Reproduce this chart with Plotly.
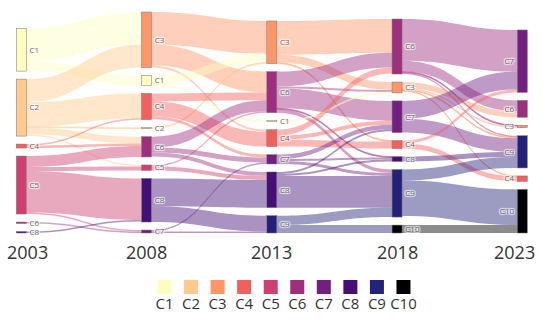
import plotly.graph_objects as go

years = ["2003", "2008", "2013", "2018", "2023"]
classes = ["C1", "C2", "C3", "C4", "C5", "C6", "C7", "C8", "C9", "C10"]
class_colors = ["#fcfdbf", "#feca8d", "#fd9668", "#f1605d", "#cd4071",
                "#9e2f7f", "#721f81", "#440f76", "#242178", "#000004"]

# classes present in each year (top-to-bottom order)
nodes_2003 = ["C1", "C2", "C4", "C5", "C6", "C8"]
nodes_2008 = ["C3", "C1", "C4", "C2", "C6", "C5", "C8", "C7"]
nodes_2013 = ["C3", "C6", "C1", "C4", "C7", "C8", "C9"]
nodes_2018 = ["C6", "C3", "C7", "C4", "C8", "C9", "C10"]
nodes_2023 = ["C7", "C6", "C3", "C9", "C4", "C10"]

# transitions: period start year, from class, to class, value
flow_year = (["2003"] * 15 + ["2008"] * 18 + ["2013"] * 20 + ["2018"] * 16)
flow_from = [
    # 2003 -> 2008
    "C1", "C1", "C2", "C2", "C2", "C2", "C2", "C4", "C4", "C5", "C5", "C5", "C5", "C6", "C8",
    # 2008 -> 2013
    "C3", "C3", "C3", "C1", "C1", "C2", "C4", "C4", "C4", "C6", "C6", "C6", "C5", "C5", "C8", "C8", "C7", "C7",
    # 2013 -> 2018
    "C3", "C3", "C3", "C6", "C6", "C6", "C6", "C6", "C1", "C4", "C4", "C4", "C7", "C7", "C7", "C8", "C8", "C8", "C9", "C9",
    # 2018 -> 2023
    "C6", "C6", "C6", "C6", "C3", "C3", "C3", "C3", "C7", "C7", "C4", "C4", "C8", "C9", "C9", "C10",
]
flow_to = [
    "C3", "C1", "C3", "C4", "C2", "C6", "C5", "C4", "C6", "C6", "C5", "C8", "C7", "C7", "C8",
    "C3", "C6", "C4", "C3", "C1", "C3", "C6", "C4", "C7", "C6", "C7", "C8", "C6", "C8", "C8", "C9", "C7", "C9",
    "C6", "C3", "C4", "C6", "C3", "C7", "C9", "C8", "C3", "C6", "C7", "C4", "C7", "C8", "C9", "C7", "C8", "C9", "C9", "C10",
    "C7", "C6", "C3", "C9", "C6", "C3", "C4", "C9", "C7", "C9", "C7", "C4", "C9", "C9", "C10", "C10",
]
flow_value = [
    33, 10, 23, 25, 1, 7, 1.5, 1.5, 2.5, 11, 4, 42, 1.5, 1.5, 1.5,
    33, 21, 2, 9, 1, 1, 8, 15, 3, 11, 5, 4, 1.5, 4, 28, 16, 1.5, 1.5,
    34, 8, 1, 15, 2, 20, 3.5, 1, 1, 6, 4, 7, 4.5, 2, 3, 2, 2, 32, 9.5, 8,
    42, 11, 1, 1.5, 6, 1.5, 0.5, 1, 18, 14, 3, 5, 5, 11, 36, 8,
]

node_lists = [nodes_2003, nodes_2008, nodes_2013, nodes_2018, nodes_2023]


def rgba(hex_color, a):
    h = hex_color.lstrip("#")
    r, g, b = int(h[0:2], 16), int(h[2:4], 16), int(h[4:6], 16)
    return f"rgba({r},{g},{b},{a})"


keys, labels, ncolors = [], [], []
for yr, lst in zip(years, node_lists):
    for c in lst:
        keys.append(f"{yr}-{c}")
        labels.append(c)
        ncolors.append(class_colors[classes.index(c)])
index = {k: i for i, k in enumerate(keys)}

src, tgt, lcol = [], [], []
for yr, f, t in zip(flow_year, flow_from, flow_to):
    nxt = years[years.index(yr) + 1]
    src.append(index[f"{yr}-{f}"])
    tgt.append(index[f"{nxt}-{t}"])
    lcol.append(rgba(class_colors[classes.index(f)], 0.45))

W, H = 543, 321
x0, x1 = 16.3 / W, 527.3 / W
y_top, y_bot = 12, 233
THICK, PAD = 10, 8

# node values as the sankey computes them (max of inflow / outflow)
inflow = [0.0] * len(keys)
outflow = [0.0] * len(keys)
for s, t, v in zip(src, tgt, flow_value):
    outflow[s] += v
    inflow[t] += v
node_val = [max(a, b) for a, b in zip(inflow, outflow)]

# vertical scale used by the sankey layout (tightest column)
dom_w = (x1 - x0) * W
dom_h = (y_bot - y_top)
col_idx = [[index[f"{yr}-{c}"] for c in lst] for yr, lst in zip(years, node_lists)]
ky = min((dom_h - (len(ci) - 1) * PAD) / sum(node_val[i] for i in ci) for ci in col_idx)

# last column: stack nodes in listed order, resting on the bottom edge
node_x = [None] * len(keys)
node_y = [None] * len(keys)
ybot = dom_h
for i in reversed(col_idx[-1]):
    h = node_val[i] * ky
    node_y[i] = (ybot - h / 2) / dom_h
    node_x[i] = (dom_w - THICK / 2) / dom_w
    ybot -= h + PAD

fig = go.Figure()
fig.add_trace(go.Sankey(
    domain=dict(x=[x0, x1], y=[1 - y_bot / H, 1 - y_top / H]),
    arrangement="fixed",
    node=dict(label=labels, color=ncolors, thickness=THICK, pad=PAD,
              x=node_x, y=node_y,
              line=dict(color="#777", width=0.5)),
    link=dict(source=src, target=tgt, value=flow_value, color=lcol),
    textfont=dict(family="Open Sans", size=8, color="#666"),
))

# legend: colored squares with labels beneath
fig.add_trace(go.Scatter(
    x=list(range(len(classes))), y=[0.53] * len(classes), mode="markers",
    marker=dict(symbol="square", size=14, color=class_colors, line=dict(width=0)),
    xaxis="x", yaxis="y", showlegend=False, hoverinfo="skip"))
fig.add_trace(go.Scatter(
    x=list(range(len(classes))), y=[0.24] * len(classes), mode="text",
    text=classes, textfont=dict(family="Open Sans", size=15, color="#333"),
    xaxis="x", yaxis="y", showlegend=False, hoverinfo="skip"))

# year labels under each column
step = (x1 - x0 - THICK / W) / (len(years) - 1)
for i, yr in enumerate(years):
    cx = x0 + THICK / 2 / W + i * step
    if i == 0:
        xa, xx = "left", 5 / W
    elif i == len(years) - 1:
        xa, xx = "right", 537 / W
    else:
        xa, xx = "center", cx
    fig.add_annotation(text=yr, x=xx, y=1 - 251.5 / H, xref="paper", yref="paper",
                       xanchor=xa, yanchor="middle", showarrow=False,
                       font=dict(family="Open Sans", size=18, color="#333"))

fig.update_layout(
    width=W, height=H, margin=dict(l=0, r=0, t=0, b=0),
    paper_bgcolor="white", plot_bgcolor="rgba(0,0,0,0)",
    xaxis=dict(domain=[0.2785, 0.7675], range=[-0.5, 9.5], visible=False, fixedrange=True),
    yaxis=dict(domain=[0, 0.2], range=[0, 1], visible=False, fixedrange=True),
    showlegend=False,
)

fig.write_html("out.html")
